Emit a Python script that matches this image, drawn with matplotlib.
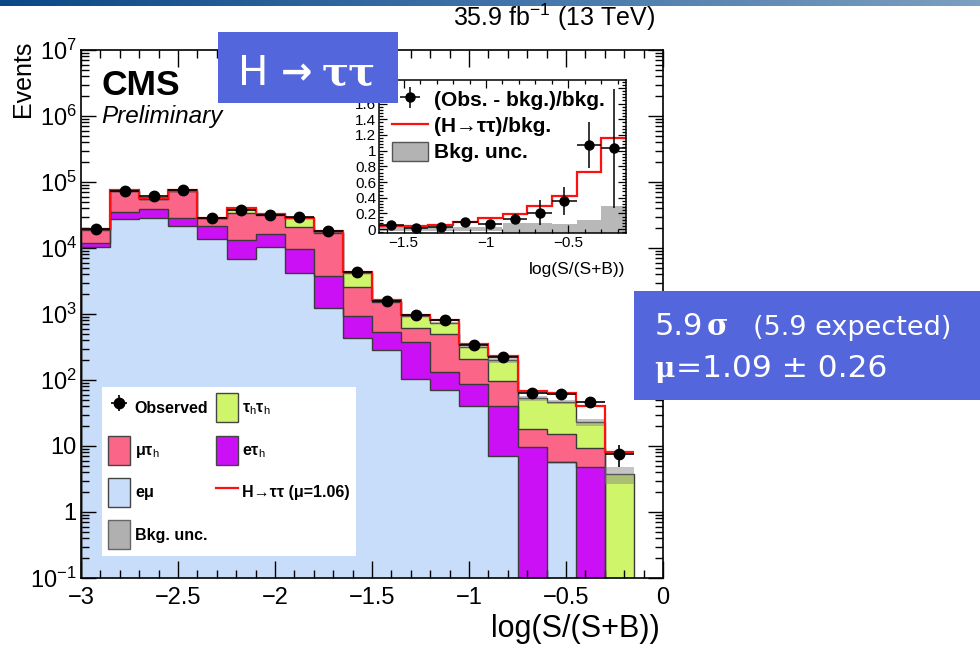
import numpy as np
import matplotlib
matplotlib.use("Agg")
import matplotlib.pyplot as plt
from matplotlib.patches import Rectangle, Patch
from matplotlib.lines import Line2D
from matplotlib.colors import LinearSegmentedColormap
from matplotlib.ticker import MultipleLocator, LogLocator, NullFormatter, FuncFormatter

plt.rcParams['font.family'] = ['Liberation Sans', 'DejaVu Sans']
plt.rcParams['mathtext.fontset'] = 'custom'
plt.rcParams['mathtext.rm'] = 'Liberation Sans'
plt.rcParams['mathtext.it'] = 'Liberation Sans:italic'
plt.rcParams['mathtext.bf'] = 'Liberation Sans:bold'
plt.rcParams['mathtext.default'] = 'regular'

# ---------------- data ----------------
bin_edges = [-3.0, -2.85, -2.7, -2.55, -2.4, -2.25, -2.1, -1.95, -1.8, -1.65,
             -1.5, -1.35, -1.2, -1.05, -0.9, -0.75, -0.6, -0.45, -0.3, -0.15]

emu    = [10200, 27800, 28400, 21800, 13900, 6800, 10300, 4160, 1220, 430,
          287, 103, 70, 41, 7.0, 0, 5.7, 0, 0]
etau   = [1800, 7200, 10500, 6600, 7900, 6600, 6200, 5640, 2530, 505,
          253, 275, 60, 46, 33, 9.6, 0, 4.8, 0]
mutau  = [7000, 38600, 16800, 45200, 6500, 20500, 15500, 11300, 13250, 1665,
          995, 244, 375, 120, 57.5, 8.4, 9.3, 4.5, 0]
tautau = [150, 300, 300, 300, 300, 6300, 300, 7300, 500, 1550,
          60, 313, 235, 111, 102.5, 35, 31, 13.7, 3.7]
signal = [190, 740, 560, 740, 280, 400, 320, 400, 350, 166,
          47, 37, 59, 29, 28, 16, 18, 16.8, 4.3]
bkg_unc_rel = [0.03, 0.03, 0.03, 0.03, 0.03, 0.05, 0.03, 0.03, 0.04, 0.03,
               0.03, 0.03, 0.03, 0.03, 0.08, 0.08, 0.07, 0.12, 0.29]
observed = [19500, 74000, 61000, 76000, 28500, 38000, 31500, 29000, 18000, 4300,
            1600, 960, 800, 335, 225, 63, 61, 47, 7.5]
observed_err = [140, 270, 250, 275, 170, 195, 180, 170, 134, 66,
                40, 31, 28, 18, 15, 8, 8, 7, 2.7]

# inset: last ten bins
inset_first_bin = 9
ratio_obs     = [0.055, 0.02, 0.03, 0.09, 0.06, 0.13, 0.21, 0.36, 1.07, 1.03]
ratio_obs_err = [0.02, 0.02, 0.03, 0.04, 0.05, 0.06, 0.16, 0.18, 0.29, 0.76]
ratio_signal  = [0.04, 0.04, 0.05, 0.09, 0.14, 0.19, 0.30, 0.42, 0.73, 1.16]
ratio_unc     = [0.03, 0.03, 0.03, 0.03, 0.03, 0.08, 0.08, 0.07, 0.12, 0.29]

c_emu, c_etau, c_mutau, c_tautau = '#c8ddf9', '#cc10f5', '#fa6588', '#cff56b'
c_outline = '#3a3a3a'
c_box = '#5366dc'

# ---------------- figure ----------------
W, H = 980, 649
fig = plt.figure(figsize=(W / 100, H / 100), dpi=100)


def fx(x):
    return x / W


def fy(y):
    return 1 - y / H


ax = fig.add_axes([fx(81), fy(578), fx(663) - fx(81), fy(50) - fy(578)])
ax.set_yscale('log')

edges = np.array(bin_edges)
lefts = edges[:-1]
widths = np.diff(edges)
centers = lefts + widths / 2

bottom = np.zeros(len(lefts))
tops = []
for vals, col in zip([emu, etau, mutau, tautau], [c_emu, c_etau, c_mutau, c_tautau]):
    v = np.array(vals, float)
    ax.bar(lefts, v, width=widths, bottom=bottom, align='edge', color=col,
           linewidth=0, zorder=1)
    bottom = bottom + v
    tops.append(bottom.copy())
for t in tops:
    ax.stairs(t, edges, baseline=1e-3, color=c_outline, lw=1.0, zorder=2)

tot = tops[-1]
unc = np.array(bkg_unc_rel)
ax.bar(lefts, 2 * tot * unc, bottom=tot * (1 - unc), width=widths, align='edge',
       color='#7f7f7f', alpha=0.45, linewidth=0, zorder=3)
ax.stairs(tot + np.array(signal), edges, baseline=None, color='#ff1010', lw=1.6, zorder=4)
obs_h = ax.errorbar(centers, observed, yerr=observed_err, xerr=widths / 2, fmt='o',
                    color='k', ms=7.5, elinewidth=1.2, capsize=0, zorder=6)

ax.set_xlim(-3, 0)
ax.set_ylim(0.1, 1e7)
ax.xaxis.set_major_locator(MultipleLocator(0.5))
ax.xaxis.set_minor_locator(MultipleLocator(0.1))
ax.xaxis.set_major_formatter(FuncFormatter(lambda v, p: f"{v:g}".replace('-', '\u2212')))
ax.yaxis.set_major_locator(LogLocator(base=10, numticks=20))
ax.yaxis.set_minor_locator(LogLocator(base=10, subs=np.arange(2, 10), numticks=100))
ax.yaxis.set_minor_formatter(NullFormatter())


def yfmt(v, p):
    e = int(round(np.log10(v)))
    if e == 0:
        return '1'
    if e == 1:
        return '10'
    return r'$10^{%d}$' % e


ax.yaxis.set_major_formatter(FuncFormatter(yfmt))
ax.tick_params(axis='both', which='both', direction='in', top=True, right=True, width=1.0)
ax.tick_params(axis='x', which='major', length=12, labelsize=17, pad=6.5)
ax.tick_params(axis='x', which='minor', length=6)
ax.tick_params(axis='y', which='major', length=11, labelsize=17, pad=3)
ax.tick_params(axis='y', which='minor', length=5.5)
for s in ax.spines.values():
    s.set_linewidth(1.2)

# main legend
handles = [obs_h,
           Patch(facecolor=c_mutau, edgecolor='#444444', lw=1),
           Patch(facecolor=c_emu, edgecolor='#444444', lw=1),
           Patch(facecolor='#b0b0b0', edgecolor='#666666', lw=1),
           Patch(facecolor=c_tautau, edgecolor='#444444', lw=1),
           Patch(facecolor=c_etau, edgecolor='#444444', lw=1),
           Line2D([], [], color='#ff1010', lw=1.6)]
labels = ['Observed', r'$\mu\tau_{\rm h}$', r'e$\mu$', 'Bkg. unc.',
          r'$\tau_{\rm h}\tau_{\rm h}$', r'e$\tau_{\rm h}$', 'H\u2192\u03c4\u03c4 (\u03bc=1.06)']
leg = ax.legend(handles, labels, ncol=2, loc='upper left',
                bbox_to_anchor=(fx(101.7), fy(386.7)), bbox_transform=fig.transFigure,
                frameon=True, fancybox=False, edgecolor='none', facecolor='white',
                framealpha=1, prop={'weight': 'bold', 'size': 11.5},
                handlelength=1.375, handleheight=2.42, handletextpad=0.3,
                labelspacing=0.84, columnspacing=0.45, borderpad=0.4, borderaxespad=0)
leg.set_zorder(5)

# ---------------- inset ----------------
axi = fig.add_axes([fx(379), fy(233), fx(626) - fx(379), fy(80) - fy(233)])
in_edges = edges[inset_first_bin:]
in_lefts = in_edges[:-1]
in_w = np.diff(in_edges)
in_centers = in_lefts + in_w / 2
ru = np.array(ratio_unc)
axi.bar(in_lefts, 2 * ru, bottom=-ru, width=in_w, align='edge', color='#b8b8b8',
        linewidth=0, zorder=1)
axi.stairs(ratio_signal, in_edges, baseline=None, color='#ff1010', lw=1.6, zorder=2)
obs_in = axi.errorbar(in_centers, ratio_obs, yerr=ratio_obs_err, xerr=in_w / 2, fmt='o',
                      color='k', ms=6.5, elinewidth=1.1, capsize=0, zorder=3)
axi.set_xlim(-1.65, -0.15)
axi.set_ylim(-0.05, 1.9)
axi.xaxis.set_major_locator(MultipleLocator(0.5))
axi.xaxis.set_minor_locator(MultipleLocator(0.1))
axi.yaxis.set_major_locator(MultipleLocator(0.2))
axi.yaxis.set_minor_locator(MultipleLocator(0.04))
axi.xaxis.set_major_formatter(FuncFormatter(lambda v, p: f"{v:g}".replace('-', '\u2212')))
axi.yaxis.set_major_formatter(FuncFormatter(
    lambda v, p: f"{round(v, 2):g}" if v < 1.7 else ''))
axi.tick_params(axis='both', which='both', direction='in', top=True, right=True,
                width=0.9, labelsize=11, pad=2)
axi.tick_params(axis='both', which='major', length=6)
axi.tick_params(axis='both', which='minor', length=3)
for s in axi.spines.values():
    s.set_linewidth(1.1)
axi.legend([obs_in, Line2D([], [], color='#ff1010', lw=1.6),
            Patch(facecolor='#b3b3b3', edgecolor='#555555', lw=1)],
           ['(Obs. - bkg.)/bkg.', '(H\u2192\u03c4\u03c4)/bkg.', 'Bkg. unc.'],
           loc='upper left', bbox_to_anchor=(fx(392), fy(89)), bbox_transform=fig.transFigure,
           frameon=False, prop={'weight': 'bold', 'size': 15},
           handlelength=1.73, handleheight=1.03, handletextpad=0.3,
           labelspacing=0.27, borderpad=0, borderaxespad=0)
fig.text(fx(625), fy(274), 'log(S/(S+B))', ha='right', va='baseline', fontsize=12.5)

# ---------------- texts ----------------
fig.text(fx(101.7), fy(95), 'CMS', fontsize=25.5, fontweight='bold', ha='left', va='baseline')
fig.text(fx(101.7), fy(123.3), 'Preliminary', fontsize=17.5, style='italic',
         ha='left', va='baseline')
fig.text(fx(655), fy(26), r'35.9 fb$^{-1}$ (13 TeV)', ha='right', va='baseline', fontsize=18)
fig.text(fx(11), fy(41), 'Events', rotation=90, ha='left', va='top', fontsize=18)
fig.text(fx(660), fy(637), 'log(S/(S+B))', ha='right', va='baseline', fontsize=22)

# top gradient bar
gax = fig.add_axes([0, fy(6), 1, 6 / H])
cmap = LinearSegmentedColormap.from_list('bar', ['#0b4886', '#3f73a8', '#7d9fc0'])
gax.imshow(np.linspace(0, 1, 256)[None, :], aspect='auto', cmap=cmap)
gax.axis('off')

# blue annotation boxes
fig.patches.append(Rectangle((fx(218), fy(103)), fx(398) - fx(218), fy(32) - fy(103),
                             transform=fig.transFigure, facecolor=c_box, edgecolor='none',
                             zorder=10))
fig.text(fx(238), fy(85), 'H', color='white', fontsize=29, family='DejaVu Sans',
         ha='left', va='baseline', zorder=11)
fig.text(fx(281), fy(84), '\u2192', color='white', fontsize=27, fontweight='bold',
         family='DejaVu Sans', ha='left', va='baseline', zorder=11)
fig.text(fx(322), fy(85), '\u03c4\u03c4', color='white', fontsize=29, fontweight='bold',
         family='DejaVu Serif', ha='left', va='baseline', zorder=11)

fig.patches.append(Rectangle((fx(634), fy(400)), fx(980) - fx(634), fy(291) - fy(400),
                             transform=fig.transFigure, facecolor=c_box, edgecolor='none',
                             zorder=10))
fig.text(fx(655), fy(335), '5.9', color='white', fontsize=22, family='DejaVu Sans',
         ha='left', va='baseline', zorder=11)
fig.text(fx(707), fy(335), '\u03c3', color='white', fontsize=21, fontweight='bold',
         family='DejaVu Serif', ha='left', va='baseline', zorder=11)
fig.text(fx(753), fy(335), '(5.9 expected)', color='white', fontsize=19.5,
         family='DejaVu Sans', ha='left', va='baseline', zorder=11)
fig.text(fx(654), fy(377), '\u03bc', color='white', fontsize=20, fontweight='bold',
         family='DejaVu Serif', ha='left', va='baseline', zorder=11)
fig.text(fx(676), fy(377), '=1.09 \u00b1 0.26', color='white', fontsize=22.5,
         family='DejaVu Sans', ha='left', va='baseline', zorder=11)

fig.savefig('out.png', dpi=100)
